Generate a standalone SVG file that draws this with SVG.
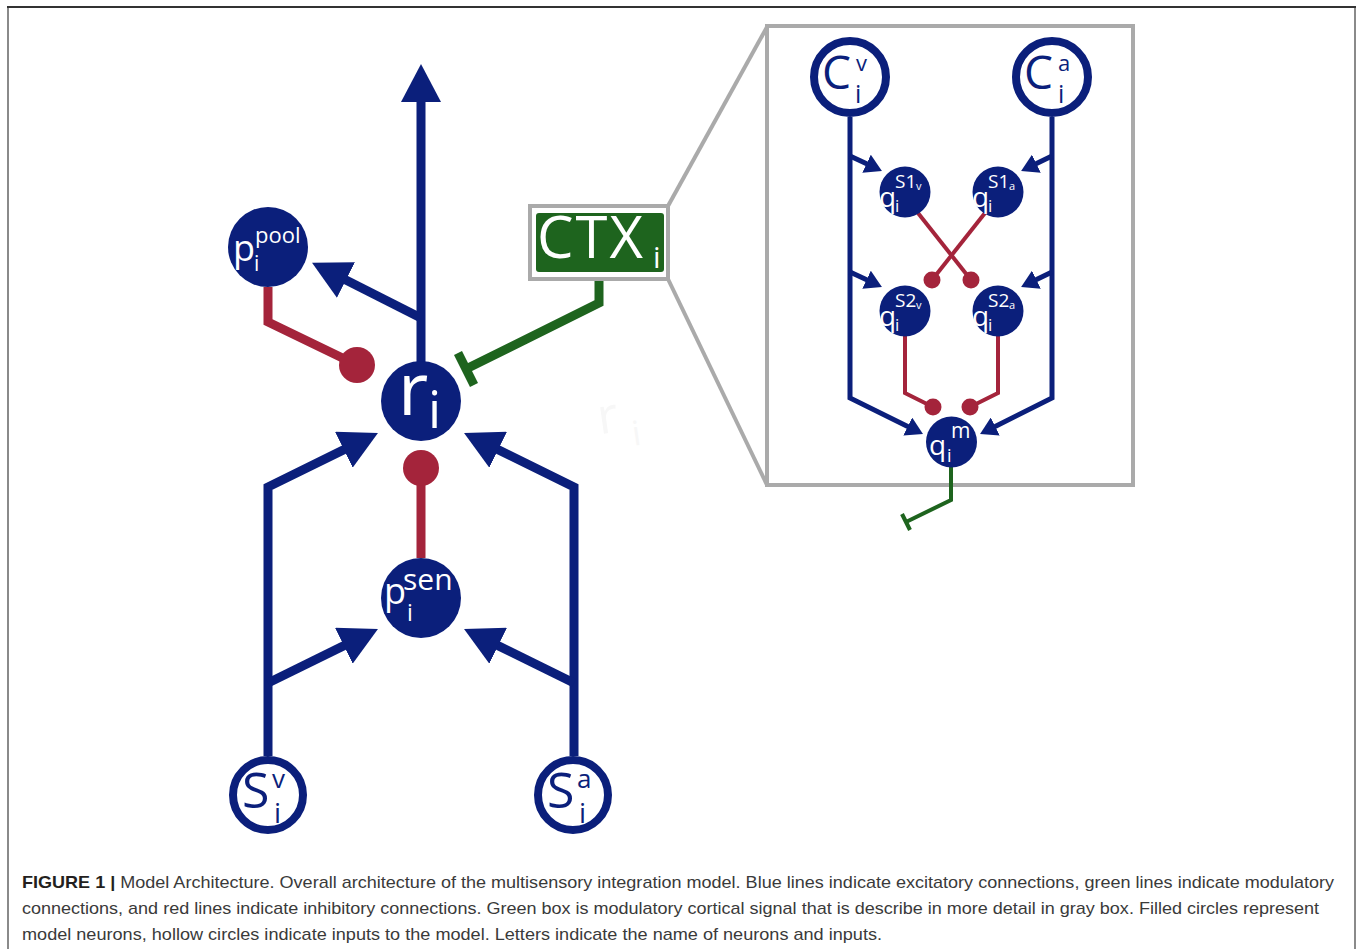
<svg xmlns="http://www.w3.org/2000/svg" width="1360" height="949" viewBox="0 0 1360 949">
  <style>
    .exc { fill: none; stroke: #0b1f7b; stroke-width: 9; stroke-linejoin: miter; }
    .exc-s { fill: none; stroke: #0b1f7b; stroke-width: 5; stroke-linejoin: miter; }
    .inh { fill: none; stroke: #a4243b; stroke-width: 9; stroke-linejoin: miter; }
    .inh-s { fill: none; stroke: #a4243b; stroke-width: 4; stroke-linejoin: miter; }
    .mod { fill: none; stroke: #1e641e; stroke-width: 9; stroke-linejoin: miter; }
    .mod-s { fill: none; stroke: #1e641e; stroke-width: 4; stroke-linejoin: miter; }
    .dot { fill: #a4243b; }
    .neuron { fill: #0b1f7b; }
    .input { fill: #ffffff; stroke: #0b1f7b; stroke-width: 8; }
    .zoomline { fill: none; stroke: #aaaaaa; stroke-width: 4; }
    .lbl { font-family: "Open Sans", "DejaVu Sans", sans-serif; fill: #ffffff; }
    .lbl-in { font-family: "Open Sans", "DejaVu Sans", sans-serif; fill: #0b1f7b; }
    .cap { font-family: "Liberation Sans", Arial, sans-serif; font-size: 17px; fill: #3a3a3a; }
    .cap-b { font-weight: bold; fill: #231f20; }
  </style>
  <defs>
    <marker id="arrow" markerUnits="userSpaceOnUse" viewBox="0 0 38 40" refX="20" refY="20" markerWidth="38" markerHeight="40" orient="auto">
      <path d="M0,0 L38,20 L0,40 Z" fill="#0b1f7b"/>
    </marker>
    <marker id="arrow-s" markerUnits="userSpaceOnUse" viewBox="0 0 17 20" refX="9" refY="10" markerWidth="17" markerHeight="20" orient="auto">
      <path d="M0,0 L17,10 L0,20 Z" fill="#0b1f7b"/>
    </marker>
  </defs>

  <rect width="1360" height="949" fill="#ffffff"/>
  <!-- figure frame -->
  <line x1="8" y1="8" x2="8" y2="949" stroke="#8a8a8a" stroke-width="2"/>
  <line x1="1355" y1="8" x2="1355" y2="949" stroke="#8a8a8a" stroke-width="2"/>
  <line x1="7" y1="7" x2="1356" y2="7" stroke="#333333" stroke-width="2"/>

  <!-- faint ghost label -->
  <g id="ghost">
    <text x="598" y="432" font-family="Open Sans, sans-serif" font-size="50" fill="#f7f7f7" transform="rotate(-8 615 420)">r</text>
    <text x="630" y="448" font-family="Open Sans, sans-serif" font-size="34" fill="#f7f7f7" transform="rotate(-8 615 420)">i</text>
  </g>

  <!-- detail box outline and zoom lines -->
  <g id="detail-frame">
    <line class="zoomline" x1="668" y1="206" x2="767" y2="27"/>
    <line class="zoomline" x1="668" y1="279" x2="767" y2="485"/>
    <rect class="zoomline" x="767" y="26" width="366" height="459"/>
  </g>

  <g id="connectors">
    <!-- main: excitatory -->
    <path class="exc" d="M421,362 L421,82" marker-end="url(#arrow)"/>
    <path class="exc" d="M421,318 L328.1,271" marker-end="url(#arrow)"/>
    <path class="exc" d="M268,756 L268,487 L361.8,440.9" marker-end="url(#arrow)"/>
    <path class="exc" d="M268,683 L361.8,636.9" marker-end="url(#arrow)"/>
    <path class="exc" d="M574,756 L574,487 L480.2,440.9" marker-end="url(#arrow)"/>
    <path class="exc" d="M574,683 L480.2,636.9" marker-end="url(#arrow)"/>
    <!-- main: inhibitory -->
    <path class="inh" d="M268,287 L268,322 L357,365"/>
    <circle class="dot" cx="357" cy="365" r="18"/>
    <path class="inh" d="M421,558 L421,468"/>
    <circle class="dot" cx="421" cy="468" r="18"/>
    <!-- main: modulatory -->
    <path class="mod" d="M599,272 L599,303 L466,369"/>
    <line class="mod" x1="458" y1="352.9" x2="474" y2="385.1"/>

    <!-- detail: excitatory -->
    <path class="exc-s" d="M850,117 L850,398 L915.8,430.5" marker-end="url(#arrow-s)"/>
    <path class="exc-s" d="M1052,117 L1052,398 L987.2,430.5" marker-end="url(#arrow-s)"/>
    <path class="exc-s" d="M850,156 L874.7,167.6" marker-end="url(#arrow-s)"/>
    <path class="exc-s" d="M1052,156 L1028.3,167.6" marker-end="url(#arrow-s)"/>
    <path class="exc-s" d="M850,272 L874.7,283.6" marker-end="url(#arrow-s)"/>
    <path class="exc-s" d="M1052,272 L1028.3,283.6" marker-end="url(#arrow-s)"/>
    <!-- detail: inhibitory -->
    <path class="inh-s" d="M918,213 L971,280"/>
    <circle class="dot" cx="971" cy="280" r="8.5"/>
    <path class="inh-s" d="M985,213 L932,280"/>
    <circle class="dot" cx="932" cy="280" r="8.5"/>
    <path class="inh-s" d="M905,336 L905,393 L933,407"/>
    <circle class="dot" cx="933" cy="407" r="8.5"/>
    <path class="inh-s" d="M998,336 L998,393 L970,407"/>
    <circle class="dot" cx="970" cy="407" r="8.5"/>
    <!-- detail: modulatory output -->
    <path class="mod-s" d="M951,467 L951,500 L906,522"/>
    <line class="mod-s" x1="902" y1="514" x2="910" y2="530"/>
  </g>

  <!-- main nodes -->
  <g id="node-r">
    <circle class="neuron" cx="421" cy="401" r="40"/>
    <text class="lbl" x="398" y="415" font-size="74">r</text>
    <text class="lbl" x="428" y="428" font-size="52">i</text>
  </g>
  <g id="node-ppool">
    <circle class="neuron" cx="268" cy="247" r="40"/>
    <text class="lbl" x="233" y="261" font-size="36">p</text>
    <text class="lbl" x="255" y="243" font-size="22">pool</text>
    <text class="lbl" x="254" y="271" font-size="21">i</text>
  </g>
  <g id="node-psen">
    <circle class="neuron" cx="421" cy="598" r="40"/>
    <text class="lbl" x="384" y="604" font-size="36">p</text>
    <text class="lbl" x="403" y="590" font-size="30">sen</text>
    <text class="lbl" x="407" y="621" font-size="23">i</text>
  </g>
  <g id="node-sv">
    <circle class="input" cx="268" cy="795" r="35"/>
    <text class="lbl-in" x="242" y="808" font-size="50">S</text>
    <text class="lbl-in" x="272" y="788" font-size="26">v</text>
    <text class="lbl-in" x="274" y="823" font-size="28">i</text>
  </g>
  <g id="node-sa">
    <circle class="input" cx="573" cy="795" r="35"/>
    <text class="lbl-in" x="547" y="808" font-size="50">S</text>
    <text class="lbl-in" x="577" y="788" font-size="26">a</text>
    <text class="lbl-in" x="579" y="823" font-size="28">i</text>
  </g>
  <g id="node-ctx">
    <rect x="530" y="206" width="138" height="73" fill="#ffffff" stroke="#aaaaaa" stroke-width="4"/>
    <rect x="536" y="213" width="128" height="59" rx="3" fill="#1e641e"/>
    <text class="lbl" x="537" y="258" font-size="58" letter-spacing="2">CTX</text>
    <text class="lbl" x="653" y="268" font-size="30">i</text>
  </g>

  <!-- detail nodes -->
  <g id="node-cv">
    <circle class="input" cx="850" cy="77" r="36"/>
    <text class="lbl-in" x="822" y="89" font-size="46">C</text>
    <text class="lbl-in" x="856" y="71" font-size="22">v</text>
    <text class="lbl-in" x="855" y="103" font-size="25">i</text>
  </g>
  <g id="node-ca">
    <circle class="input" cx="1052" cy="77" r="36"/>
    <text class="lbl-in" x="1024" y="89" font-size="46">C</text>
    <text class="lbl-in" x="1058" y="71" font-size="22">a</text>
    <text class="lbl-in" x="1058" y="103" font-size="25">i</text>
  </g>
  <g id="node-qs1v">
    <circle class="neuron" cx="905" cy="192" r="25.5"/>
    <text class="lbl" x="879" y="207" font-size="28">q</text>
    <text class="lbl" x="895" y="188" font-size="19">S1</text>
    <text class="lbl" x="916" y="190" font-size="11">v</text>
    <text class="lbl" x="895" y="212" font-size="17">i</text>
  </g>
  <g id="node-qs1a">
    <circle class="neuron" cx="998" cy="192" r="25.5"/>
    <text class="lbl" x="972" y="207" font-size="28">q</text>
    <text class="lbl" x="988" y="188" font-size="19">S1</text>
    <text class="lbl" x="1009" y="190" font-size="11">a</text>
    <text class="lbl" x="988" y="212" font-size="17">i</text>
  </g>
  <g id="node-qs2v">
    <circle class="neuron" cx="905" cy="311" r="25.5"/>
    <text class="lbl" x="879" y="326" font-size="28">q</text>
    <text class="lbl" x="895" y="307" font-size="19">S2</text>
    <text class="lbl" x="916" y="309" font-size="11">v</text>
    <text class="lbl" x="895" y="331" font-size="17">i</text>
  </g>
  <g id="node-qs2a">
    <circle class="neuron" cx="998" cy="311" r="25.5"/>
    <text class="lbl" x="972" y="326" font-size="28">q</text>
    <text class="lbl" x="988" y="307" font-size="19">S2</text>
    <text class="lbl" x="1009" y="309" font-size="11">a</text>
    <text class="lbl" x="988" y="331" font-size="17">i</text>
  </g>
  <g id="node-qm">
    <circle class="neuron" cx="951.5" cy="442" r="25.5"/>
    <text class="lbl" x="929" y="455" font-size="28">q</text>
    <text class="lbl" x="951" y="438" font-size="21">m</text>
    <text class="lbl" x="947" y="462" font-size="18">i</text>
  </g>

  <!-- caption -->
  <g id="caption">
    <text class="cap" x="22" y="888" textLength="1312" lengthAdjust="spacingAndGlyphs"><tspan class="cap-b">FIGURE 1 |</tspan> Model Architecture. Overall architecture of the multisensory integration model. Blue lines indicate excitatory connections, green lines indicate modulatory</text>
    <text class="cap" x="22" y="914" textLength="1297" lengthAdjust="spacingAndGlyphs">connections, and red lines indicate inhibitory connections. Green box is modulatory cortical signal that is describe in more detail in gray box. Filled circles represent</text>
    <text class="cap" x="22" y="940" textLength="860" lengthAdjust="spacingAndGlyphs">model neurons, hollow circles indicate inputs to the model. Letters indicate the name of neurons and inputs.</text>
  </g>
</svg>
